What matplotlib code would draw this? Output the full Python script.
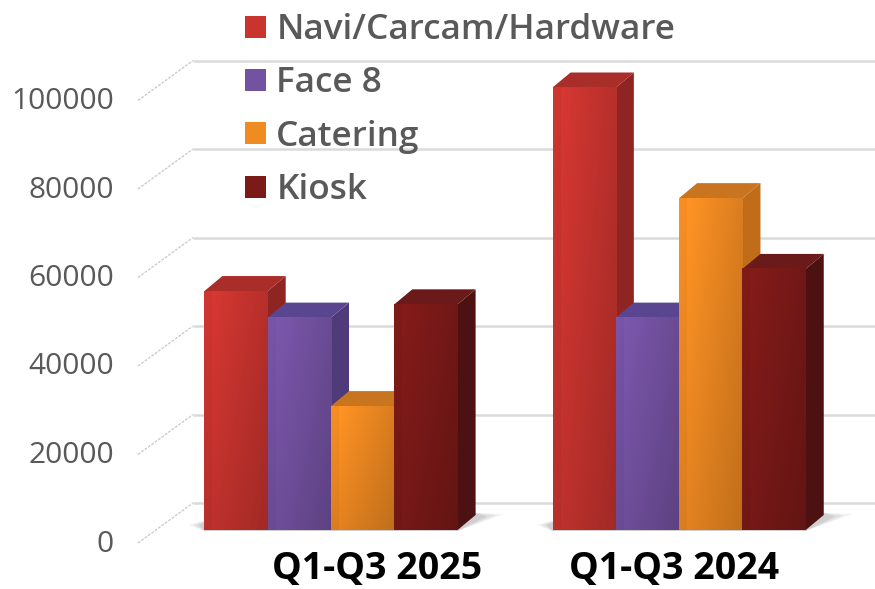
import numpy as np
import matplotlib.pyplot as plt
from matplotlib.patches import Polygon, Patch
from matplotlib.colors import to_rgb

plt.rcParams['font.family'] = ['Open Sans', 'DejaVu Sans']

# data
categories = ['Q1-Q3 2025', 'Q1-Q3 2024']
series = ['Navi/Carcam/Hardware', 'Face 8', 'Catering', 'Kiosk']
navi = [54000, 100000]
face8 = [48000, 48000]
catering = [28000, 75000]
kiosk = [51000, 59000]
ticks = [0, 20000, 40000, 60000, 80000, 100000]

values = [navi, face8, catering, kiosk]
front_colors = ['#c9342f', '#7452a2', '#f08a22', '#7c1a18']
side_colors = ['#8e2522', '#4f3a7a', '#c06c18', '#4e1111']
top_colors = ['#a92d29', '#5a4690', '#c97520', '#6a1a18']

# layout (pixels)
W, H = 875, 589
base_px = 530          # front bottom of the bars
px_per_val = 88.5 / 20000
bar_px = 63.3
first_center_px = 331
gap = 1.5
depth_x, depth_y = 18, 15      # bar depth
wall_x, wall_y = 193, 27       # back wall left edge / lift
front_x, front_y = 138, -13    # front edge of floor
label_x_px = [377, 674]


def dx(p):
    return p / bar_px


def dy(p):
    return p / px_per_val


fig = plt.figure(figsize=(W / 100, H / 100), dpi=100)
ax = fig.add_axes([0, 0, 1, 1])
xmin, xmax = -first_center_px / bar_px, (W - first_center_px) / bar_px
ymin, ymax = -(H - base_px) / px_per_val, base_px / px_per_val
ax.axis('off')

# back wall gridlines + slanted lines on the side wall
for v in ticks:
    ax.plot([dx(wall_x - first_center_px), xmax], [v + dy(wall_y)] * 2,
            color='#dadada', lw=1.8, zorder=1, solid_capstyle='butt')
    ax.plot([dx(front_x - first_center_px), dx(wall_x - first_center_px)],
            [v + dy(front_y), v + dy(wall_y)],
            color='#cccccc', lw=1.0, ls=(0, (2, 1)), zorder=1)
    ax.text(dx(114 - first_center_px), v + dy(front_y - 1), str(v),
            ha='right', va='center', fontsize=21.5, color='#595959')

cols = np.linspace(0, 1, 64)
prof = 1.07 - 0.18 * cols
prof[cols < 0.12] -= 0.05
rows = np.linspace(0.9, 1.02, 40)

DX, DY = dx(depth_x), dy(depth_y)
z = 3
for g, cat in enumerate(categories):
    center = g * (len(series) + gap)
    xl, xr = center - len(series) / 2, center + len(series) / 2
    # soft floor shadow
    for k, a in [(1.0, 0.10), (0.7, 0.14), (0.4, 0.18)]:
        ax.add_patch(Polygon([(xl - 0.25 * k, dy(5)), (xl, -dy(1)), (xr, -dy(1)),
                              (xr + DX + 0.45 * k, dy(12 + 4 * k)), (xr + DX, DY + dy(2)),
                              (xl + DX, DY)],
                             closed=True, facecolor='#808080', edgecolor='none',
                             alpha=a, zorder=2))
    for i, vals in enumerate(values):
        x0 = xl + i
        v = vals[g]
        side = Polygon([(x0 + 1, 0), (x0 + 1 + DX, DY), (x0 + 1 + DX, v + DY), (x0 + 1, v)],
                       closed=True, facecolor=side_colors[i], edgecolor='none', zorder=z)
        top = Polygon([(x0, v), (x0 + 1, v), (x0 + 1 + DX, v + DY), (x0 + DX, v + DY)],
                      closed=True, facecolor=top_colors[i], edgecolor='none', zorder=z + 1)
        ax.add_patch(side)
        ax.add_patch(top)
        base = np.array(to_rgb(front_colors[i]))
        img = np.clip(base[None, None, :] * prof[None, :, None] * rows[:, None, None], 0, 1)
        ax.imshow(img, extent=[x0, x0 + 1, 0, v], origin='lower', aspect='auto',
                  interpolation='bilinear', zorder=z + 2)
        z += 3
    ax.text(dx(label_x_px[g] - first_center_px), dy(base_px - 569), cat,
            ha='center', va='center', fontsize=27, fontweight='bold', color='black')

ax.set_xlim(xmin, xmax)
ax.set_ylim(ymin, ymax)

handles = [Patch(facecolor=front_colors[i], edgecolor='none', label=s) for i, s in enumerate(series)]
leg = ax.legend(handles=handles, loc='upper left', bbox_to_anchor=(245 / W, 1 - 13 / H),
                frameon=False, prop={'size': 25.3, 'weight': 'semibold'},
                labelcolor='#595959', borderpad=0,
                borderaxespad=0, handlelength=0.59, handleheight=0.59,
                handletextpad=0.3, labelspacing=0.55)
leg.set_zorder(50)

fig.savefig('out.png', dpi=100)
